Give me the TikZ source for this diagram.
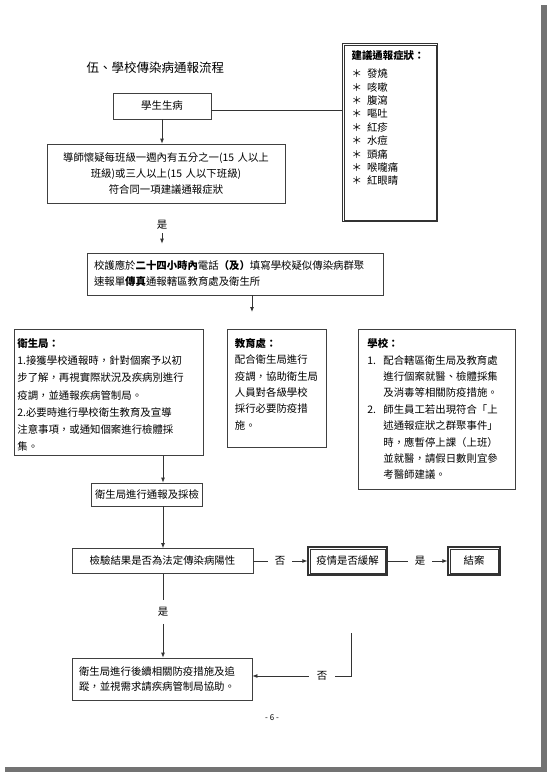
\documentclass[tikz,border=0pt]{standalone}
\usepackage{fontspec}
\setmainfont{Noto Sans CJK TC}
\usetikzlibrary{arrows.meta}
\newcommand{\hangnum}[1]{\makebox[16pt][l]{#1}}
\tikzset{
    flowbox/.style={draw=black!75, line width=0.8pt},
    listbox/.style={flowbox, align=left, anchor=north west},
    dblbox/.style={draw=black!80, line width=1.3pt},
    innerframe/.style={draw=black!80, line width=0.5pt},
    gaplabel/.style={inner sep=7pt},
    wire/.style={line width=0.8pt, black!80},
    flow/.style={wire, -{Latex[length=5pt, width=4pt]}},
}

\begin{document}
\begin{tikzpicture}[x=1pt, y=-1pt, font=\fontsize{10.4}{16.4}\selectfont]
    \useasboundingbox (0,0) rectangle (547,772);
    \fill[black!55] (5,5) rectangle (547,772);
    \fill[white] (0,0) rectangle (541,767);
    \coordinate (spine) at (163,0);
    \coordinate (split) at (252,312);
    \coordinate (back) at (351,633);

    \node[anchor=west, font=\fontsize{12.5}{15}\selectfont] (title)
        at (83,68) {伍、學校傳染病通報流程};
    \node[flowbox, minimum width=98pt, minimum height=26pt] (sick)
        at (162,106) {學生生病};
    \node[listbox, dblbox, text width=77pt, inner xsep=9pt, inner ysep=7.2pt,
        text depth=154.8pt, font=\fontsize{10.4}{13.4}\selectfont] (symptoms)
        at (342,43) {\textbf{建議通報症狀：}\\[4.6pt]
            ＊\hspace{5pt}發燒\\ ＊\hspace{5pt}咳嗽\\ ＊\hspace{5pt}腹瀉\\
            ＊\hspace{5pt}嘔吐\\ ＊\hspace{5pt}紅疹\\ ＊\hspace{5pt}水痘\\
            ＊\hspace{5pt}頭痛\\ ＊\hspace{5pt}喉嚨痛\\ ＊\hspace{5pt}紅眼睛};
    \node[flowbox, align=center, text width=230pt, inner xsep=4pt,
        minimum height=59pt, font=\fontsize{10.4}{16}\selectfont] (teacher)
        at (166,173.5) {導師懷疑每班級一週內有五分之一(15 人以上\\
            班級)或三人以上(15 人以下班級)\\ 符合同一項建議通報症狀};
    \node (yes1) at (162,225) {是};
    \node[flowbox, align=left, text width=282pt, inner xsep=7pt,
        minimum height=42pt, font=\fontsize{10.4}{16}\selectfont] (report)
        at (235,274) {校護應於\textbf{二十四小時內}電話\textbf{（及）}填寫學校疑似傳染病群聚\\
            速報單\textbf{傳真}通報轄區教育處及衛生所};

    \node[listbox, text width=183pt, inner xsep=3pt, inner ysep=9.2pt,
        text depth=98.8pt, font=\fontsize{10.4}{17.2}\selectfont] (health)
        at (14,329) {\textbf{衛生局：}\\
            1.接獲學校通報時，針對個案予以初\\ 步了解，再視實際狀況及疾病別進行\\
            疫調，並通報疾病管制局。\\ 2.必要時進行學校衛生教育及宣導\\
            注意事項，或通知個案進行檢體採\\ 集。};
    \node[listbox, text width=84pt, inner xsep=7.5pt, inner ysep=9.2pt,
        text depth=90.8pt, font=\fontsize{10.4}{16.3}\selectfont] (edu)
        at (227,329) {\textbf{教育處：}\\ 配合衛生局進行\\ 疫調，協助衛生局\\
            人員對各級學校\\ 採行必要防疫措\\ 施。};
    \node[listbox, text width=139pt, inner xsep=9pt, inner ysep=9.2pt,
        text depth=132.8pt, font=\fontsize{10.4}{16.4}\selectfont] (school)
        at (358,329) {\textbf{學校：}\\
            \hangnum{1.}配合轄區衛生局及教育處\\ \hangnum{}進行個案就醫、檢體採集\\
            \hangnum{}及消毒等相關防疫措施。\\ \hangnum{2.}師生員工若出現符合「上\\
            \hangnum{}述通報症狀之群聚事件」\\ \hangnum{}時，應暫停上課（上班）\\
            \hangnum{}並就醫，請假日數則宜參\\ \hangnum{}考醫師建議。};

    \node[flowbox, minimum width=102pt, minimum height=23pt] (sample)
        at (147,494.5) {衛生局進行通報及採檢};
    \node[flowbox, minimum width=181pt, minimum height=25pt] (test)
        at (162.5,561) {檢驗結果是否為法定傳染病陽性};
    \node[gaplabel] (no1) at (280,561) {否};
    \node[dblbox, minimum width=79pt, minimum height=28pt] (relief)
        at (347.5,561) {疫情是否緩解};
    \node[gaplabel] (yes2) at (420,561) {是};
    \node[dblbox, minimum width=52pt, minimum height=28pt] (closed)
        at (474,561) {結案};
    \node[gaplabel] (yes3) at (163,612) {是};
    \node[flowbox, align=left, text width=166pt, inner xsep=7pt,
        minimum height=42pt, font=\fontsize{10.4}{15}\selectfont] (follow)
        at (162,679) {衛生局進行後續相關防疫措施及追\\
            蹤，並視需求請疾病管制局協助。};
    \node[gaplabel, inner xsep=8pt] (no2) at (322,676) {否};
    \node[font=\fontsize{8}{10}\selectfont] (page) at (272,718) {- 6 -};

    % inner line of the double frames
    \foreach \b in {symptoms, relief, closed}
        \draw[innerframe] ([shift={(2.4pt,-2.4pt)}]\b.north west)
            rectangle ([shift={(-2.4pt,2.4pt)}]\b.south east);

    \draw[flow] (sick) -- (sick |- teacher.north);
    \draw[wire] ([yshift=-4pt]sick.east) -- ([yshift=-4pt]sick.east -| symptoms.west);
    \draw[flow, shorten >=9pt] (yes1) -- (yes1 |- report.north);
    \draw[flow] (report.south -| split) -- (split);
    \draw[flow] (health.south -| spine) -- (sample.north -| spine);
    \draw[flow] (sample.south -| spine) -- (test.north -| spine);
    \draw[wire] (test) -- (no1);
    \draw[flow] (no1) -- (relief);
    \draw[wire] (relief) -- (yes2);
    \draw[flow] (yes2) -- (closed);
    \draw[wire] (test.south -| spine) -- (yes3);
    \draw[flow] (yes3) -- (yes3 |- follow.north);
    \draw[wire] (back) |- (no2);
    \draw[flow] (no2) -- (no2 -| follow.east);
\end{tikzpicture}
\end{document}
